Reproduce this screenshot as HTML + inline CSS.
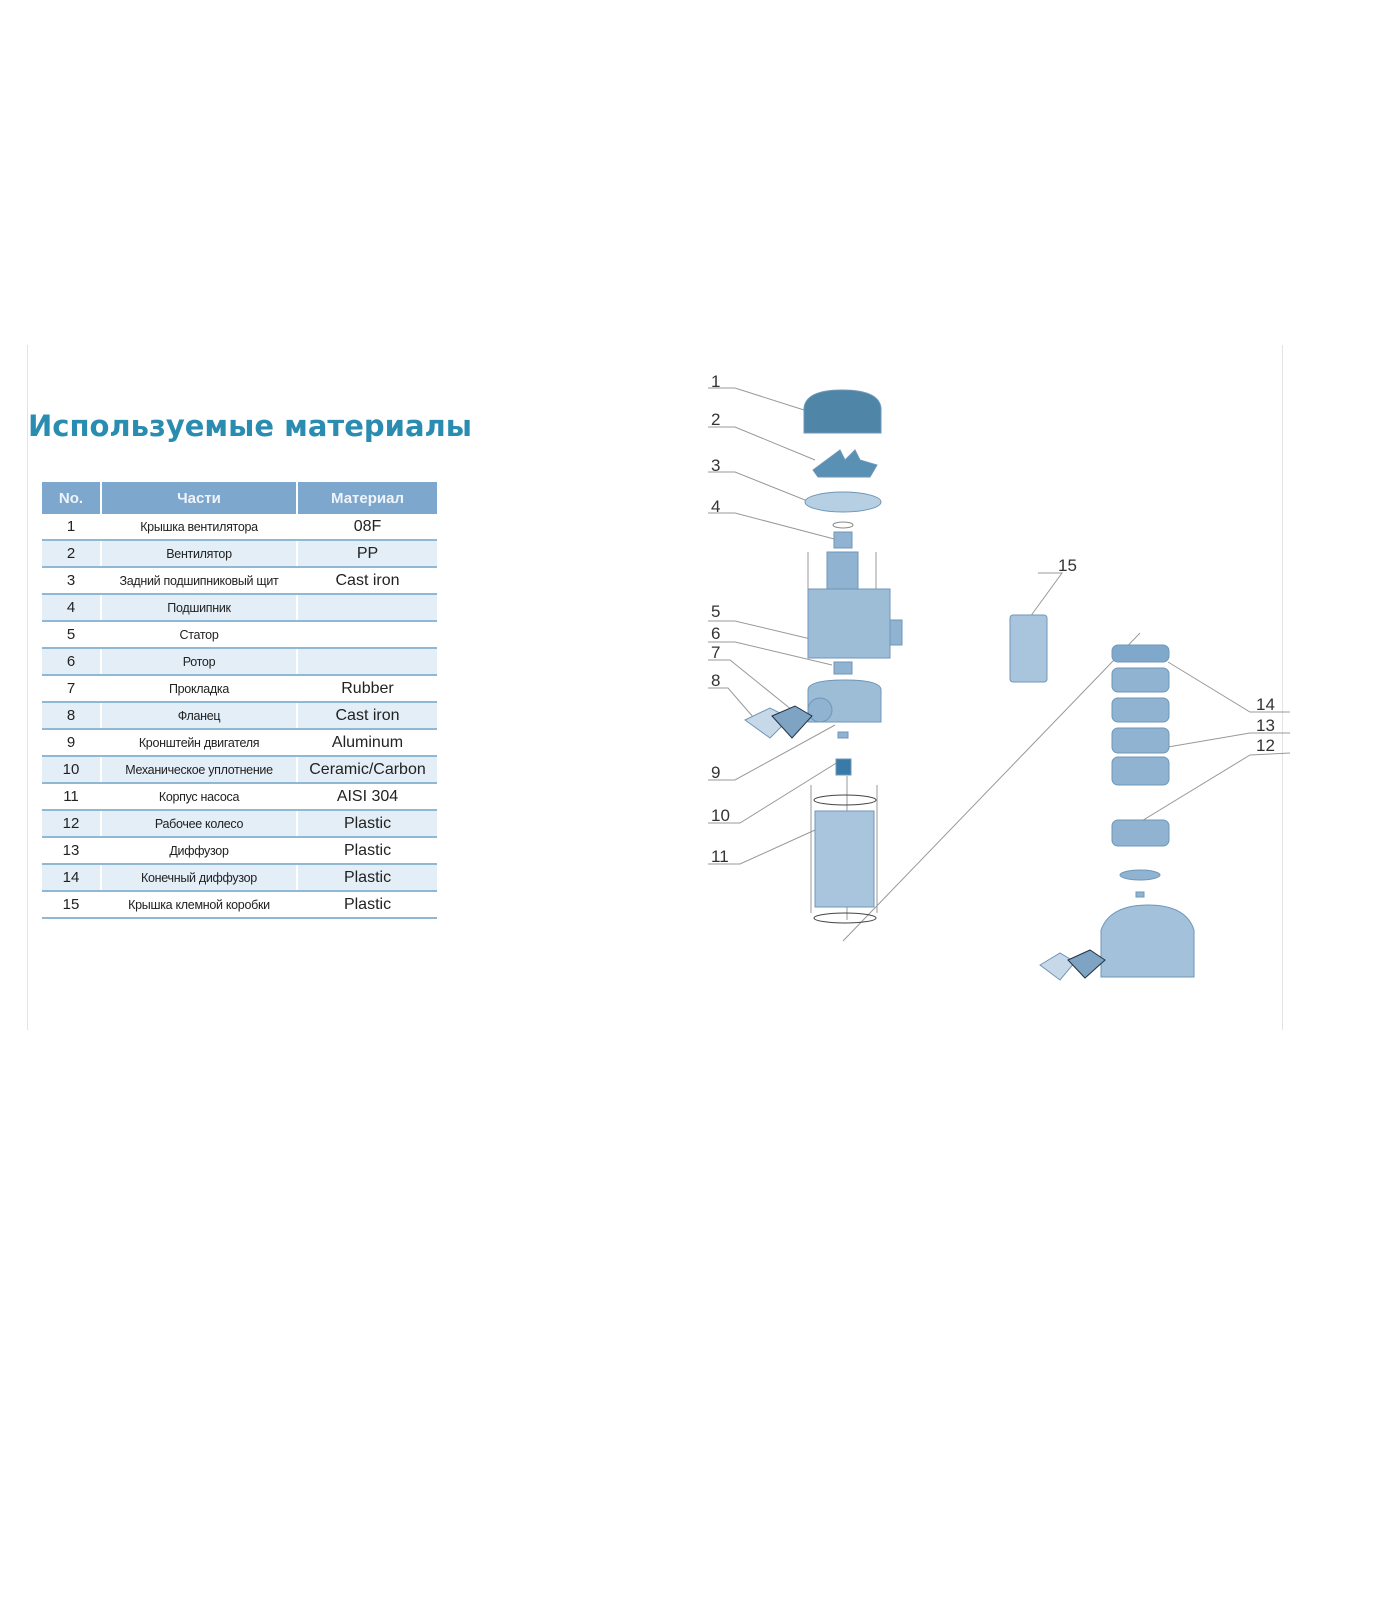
<!DOCTYPE html>
<html><head><meta charset="utf-8"><style>
body{margin:0;background:#fff;width:1400px;height:1600px;position:relative;overflow:hidden;font-family:"Liberation Sans",sans-serif}
h1{position:absolute;left:28px;top:409px;margin:0;font-size:29px;font-weight:bold;color:#2a8cb0;font-family:"DejaVu Sans","Liberation Sans",sans-serif}
table{position:absolute;left:42px;top:482px;width:395px;border-collapse:collapse}
th{background:#7ea7cd;color:#eef4fa;height:30px;font-size:15px;font-weight:bold;border-left:2px solid #fff}
th:first-child{border-left:none}
td{height:25px;text-align:center;font-size:13px;color:#222;border-bottom:2px solid #8fb8d4;padding:0}
tr:nth-child(odd) td{background:#e3eef7}
td:first-child{width:58px;font-size:15px}
td:nth-child(2){width:194px;font-size:12.5px;letter-spacing:-0.3px}
td:nth-child(3){font-size:16px}
td+td{border-left:2px solid #fff}
.side{position:absolute;top:345px;width:1px;height:685px;background:#e4e4e4}
</style></head><body>
<div class="side" style="left:27px"></div><div class="side" style="left:1282px"></div>
<h1>Используемые материалы</h1>
<table>
<tr><th>No.</th><th>Части</th><th>Материал</th></tr>
<tr><td>1</td><td>Крышка вентилятора</td><td>08F</td></tr>
<tr><td>2</td><td>Вентилятор</td><td>PP</td></tr>
<tr><td>3</td><td>Задний подшипниковый щит</td><td>Cast iron</td></tr>
<tr><td>4</td><td>Подшипник</td><td></td></tr>
<tr><td>5</td><td>Статор</td><td></td></tr>
<tr><td>6</td><td>Ротор</td><td></td></tr>
<tr><td>7</td><td>Прокладка</td><td>Rubber</td></tr>
<tr><td>8</td><td>Фланец</td><td>Cast iron</td></tr>
<tr><td>9</td><td>Кронштейн двигателя</td><td>Aluminum</td></tr>
<tr><td>10</td><td>Механическое уплотнение</td><td>Ceramic/Carbon</td></tr>
<tr><td>11</td><td>Корпус насоса</td><td>AISI 304</td></tr>
<tr><td>12</td><td>Рабочее колесо</td><td>Plastic</td></tr>
<tr><td>13</td><td>Диффузор</td><td>Plastic</td></tr>
<tr><td>14</td><td>Конечный диффузор</td><td>Plastic</td></tr>
<tr><td>15</td><td>Крышка клемной коробки</td><td>Plastic</td></tr>
</table>
<svg width="1400" height="1600" style="position:absolute;left:0;top:0" font-family="Liberation Sans, sans-serif" font-size="17" fill="#333">
<g stroke="#999" stroke-width="1" fill="none">
<polyline points="708,388 735,388 804,410"/>
<polyline points="708,427 735,427 815,460"/>
<polyline points="708,472 735,472 810,502"/>
<polyline points="708,513 735,513 838,540"/>
<polyline points="708,621 735,621 815,640"/>
<polyline points="708,642 735,642 832,665"/>
<polyline points="708,660 730,660 792,710"/>
<polyline points="708,688 728,688 760,725"/>
<polyline points="708,780 735,780 835,725"/>
<polyline points="708,823 740,823 838,762"/>
<polyline points="708,864 740,864 815,830"/>
<polyline points="1038,573 1062,573 1030,617"/>
<line x1="843" y1="941" x2="1140" y2="633"/>
<polyline points="1290,712 1250,712 1168,662"/>
<polyline points="1290,733 1250,733 1168,747"/>
<polyline points="1290,753 1250,755 1140,822"/>
<line x1="808" y1="552" x2="808" y2="593"/><line x1="876" y1="552" x2="876" y2="593"/>
<line x1="811" y1="785" x2="811" y2="913"/><line x1="877" y1="785" x2="877" y2="913"/>
<line x1="847" y1="776" x2="847" y2="920"/>
</g>
<g font-size="17">
<text x="711" y="387">1</text><text x="711" y="425">2</text><text x="711" y="471">3</text><text x="711" y="512">4</text>
<text x="711" y="617">5</text><text x="711" y="639">6</text><text x="711" y="658">7</text><text x="711" y="686">8</text>
<text x="711" y="778">9</text><text x="711" y="821">10</text><text x="711" y="862">11</text>
<text x="1058" y="571">15</text>
<text x="1256" y="710">14</text><text x="1256" y="731">13</text><text x="1256" y="751">12</text>
</g>
<g fill="#8fb3d0" stroke="#6f97b8" stroke-width="1">
<path d="M804,433 L804,408 Q806,390 842,390 Q879,390 881,408 L881,433 Z" fill="#4f86a8"/>
<path d="M813,470 L840,450 L845,460 L855,450 L860,460 L877,465 L870,477 L818,477 Z" fill="#5a90b4"/>
<ellipse cx="843" cy="502" rx="38" ry="10" fill="#b6cfe3"/>
<ellipse cx="843" cy="525" rx="10" ry="3" fill="none" stroke="#888"/>
<rect x="834" y="532" width="18" height="16"/>
<rect x="827" y="552" width="31" height="38"/>
<rect x="808" y="589" width="82" height="69" fill="#9dbcd6"/>
<rect x="890" y="620" width="12" height="25"/>
<rect x="834" y="662" width="18" height="12"/>
<path d="M808,690 Q808,680 845,680 Q881,680 881,690 L881,722 L808,722 Z" fill="#9dbcd6"/>
<ellipse cx="820" cy="710" rx="12" ry="12"/>
<path d="M745,720 L770,708 L790,718 L770,738 Z" fill="#c7d9e8"/>
<path d="M772,716 L795,706 L812,716 L792,738 Z" fill="#7fa3c2" stroke="#234"/>
<rect x="838" y="732" width="10" height="6"/>
<rect x="836" y="759" width="15" height="16" fill="#3a7aa6"/>
<ellipse cx="845" cy="800" rx="31" ry="5" fill="none" stroke="#444"/>
<rect x="815" y="811" width="59" height="96" fill="#a9c5dd"/>
<ellipse cx="845" cy="918" rx="31" ry="5" fill="none" stroke="#444"/>
<rect x="1010" y="615" width="37" height="67" rx="3" fill="#a9c5dd"/>
<rect x="1112" y="645" width="57" height="17" rx="6" fill="#7fa8cb"/>
<rect x="1112" y="668" width="57" height="24" rx="6"/>
<rect x="1112" y="698" width="57" height="24" rx="6"/>
<rect x="1112" y="728" width="57" height="25" rx="6"/>
<rect x="1112" y="757" width="57" height="28" rx="6"/>
<rect x="1112" y="820" width="57" height="26" rx="6"/>
<ellipse cx="1140" cy="875" rx="20" ry="5"/>
<rect x="1136" y="892" width="8" height="5"/>
<path d="M1101,977 L1101,930 Q1110,905 1148,905 Q1186,905 1194,930 L1194,977 Z" fill="#a3c1da"/>
<path d="M1040,965 L1060,953 L1075,962 L1060,980 Z" fill="#c7d9e8"/>
<path d="M1068,960 L1090,950 L1105,960 L1085,978 Z" fill="#7fa3c2" stroke="#234"/>
</g>
</svg>
</body></html>
